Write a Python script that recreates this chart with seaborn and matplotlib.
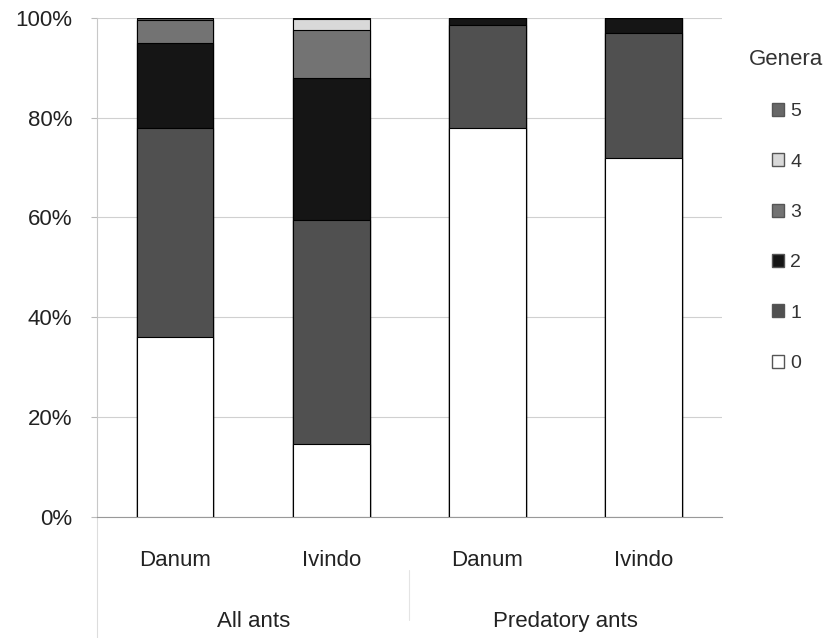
import numpy as np
import pandas as pd
import matplotlib.pyplot as plt
import matplotlib.patches as mpatches
import seaborn as sns

# Data (percent of samples by number of genera)
sites = ["Danum", "Ivindo", "Danum", "Ivindo"]
groups = ["All ants", "All ants", "Predatory ants", "Predatory ants"]
genera = ["0", "1", "2", "3", "4", "5"]
g0 = [36.0, 14.5, 78.0, 72.0]
g1 = [42.0, 45.0, 20.5, 25.0]
g2 = [17.0, 28.5, 1.5, 3.0]
g3 = [4.5, 9.5, 0.0, 0.0]
g4 = [0.0, 2.2, 0.0, 0.0]
g5 = [0.5, 0.3, 0.0, 0.0]
colors = ["#ffffff", "#505050", "#151515", "#737373", "#d9d9d9", "#676767"]

df = pd.DataFrame({"bar": [g + " " + s for g, s in zip(groups, sites)],
                   "0": g0, "1": g1, "2": g2, "3": g3, "4": g4, "5": g5})
cum = df[genera].cumsum(axis=1)

sns.set_style("white")
plt.rcParams['font.family'] = ['Liberation Sans', 'DejaVu Sans']

fig = plt.figure(figsize=(8.23, 6.38), dpi=100)
ax = fig.add_axes([0.118, 0.19, 0.759, 0.782])

# stacked bars: draw cumulative totals from the top layer down
for i in range(len(genera) - 1, -1, -1):
    sns.barplot(x=df["bar"], y=cum[genera[i]], color=colors[i], width=0.49,
                edgecolor="black", linewidth=0.8, saturation=1, ax=ax, zorder=3)

ax.set_ylim(0, 100)
ax.set_xlim(-0.5, 3.5)
ax.set_yticks(np.arange(0, 101, 20))
ax.set_yticklabels([f"{v}%" for v in range(0, 101, 20)], fontsize=16, color="#222222")
ax.set_xticks(range(4))
ax.set_xticklabels(sites, fontsize=16, color="#222222")
ax.tick_params(axis="x", length=0, pad=24)
ax.tick_params(axis="y", length=4, color="#bbbbbb", pad=14, direction="out", left=True)
ax.set_xlabel("")
ax.set_ylabel("")
ax.yaxis.grid(True, color="#d0d0d0", linewidth=0.8, zorder=0)
ax.set_axisbelow(True)
sns.despine(ax=ax, top=True, right=True)
ax.spines["left"].set_color("#c8c8c8")
ax.spines["bottom"].set_color("#999999")

# group labels and separators below the axis
ax.text(0.5, -0.21, "All ants", transform=ax.get_xaxis_transform(),
        ha="center", va="center", fontsize=16, color="#222222")
ax.text(2.5, -0.21, "Predatory ants", transform=ax.get_xaxis_transform(),
        ha="center", va="center", fontsize=16, color="#222222")
ax.plot([-0.5, -0.5], [0, -0.245], transform=ax.get_xaxis_transform(),
        color="#dddddd", lw=0.8, clip_on=False)
ax.plot([1.5, 1.5], [-0.107, -0.207], transform=ax.get_xaxis_transform(),
        color="#e4e4e4", lw=0.8, clip_on=False)

# legend
handles = [mpatches.Patch(facecolor=colors[i], edgecolor="#555555", label=genera[i])
           for i in range(len(genera) - 1, -1, -1)]
leg = ax.legend(handles=handles, title="Genera", loc="upper left",
                bbox_to_anchor=(1.016, 0.973), frameon=False, fontsize=14,
                title_fontsize=16, handlelength=0.65, handleheight=0.65,
                handletextpad=0.3, labelspacing=1.7)
leg._legend_box.align = "center"
for t in leg.get_texts():
    t.set_color("#333333")
leg.get_title().set_color("#333333")

plt.savefig("out.png", dpi=100)
